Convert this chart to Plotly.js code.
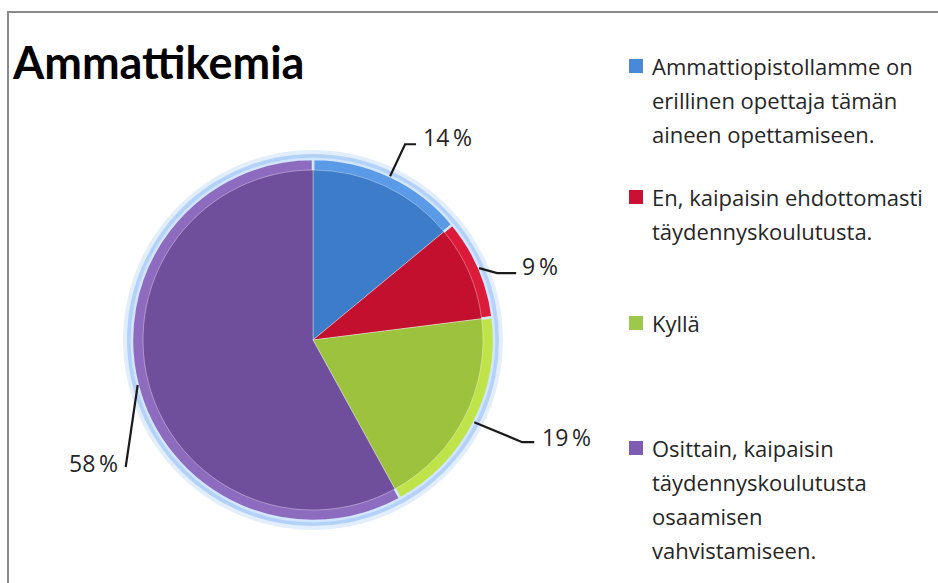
<!DOCTYPE html>
<html>
<head>
<meta charset="utf-8">
<script src="https://cdn.plot.ly/plotly-3.0.1.min.js"></script>
<style>html,body{margin:0;padding:0;background:#fff;}#chart{width:938px;height:583px;}</style>
</head>
<body>
<div id="chart"></div>
<script>
// ---- data ----
const chartTitle = "Ammattikemia";
const legendLabels = [
  "Ammattiopistollamme on<br>erillinen opettaja tämän<br>aineen opettamiseen.",
  "En, kaipaisin ehdottomasti<br>täydennyskoulutusta.",
  "Kyllä",
  "Osittain, kaipaisin<br>täydennyskoulutusta<br>osaamisen<br>vahvistamiseen."
];
const categories = legendLabels.map(s => s.replace(/<br>/g, " "));
const values = [14, 9, 19, 58];
const rimColors  = ["#5a9ae6", "#dc1a3a", "#bfe44a", "#8d6cc0"];
const bodyColors = ["#3c7cc8", "#c2102e", "#9cc23e", "#6f4f9b"];
const legendSwatch = ["#4a88d8", "#cc1035", "#9cc84c", "#7d5cb2"];

// ---- layout constants (pixels) ----
const W = 938, H = 583;
const CX = 313, CY = 340, R = 181, RIN = 170;
const px = x => x / W, py = y => 1 - y / H;
// leader offsets relative to slice edge point: [elbow, end, label, anchor]
const leader = [
  {elbow: [15, -32], end: [26, -32], label: [31, -39], anchor: "left"},
  {elbow: [18, 5],   end: [37, 5],   label: [41, -2],  anchor: "left"},
  {elbow: [48, 20],  end: [60, 20],  label: [66, 15],  anchor: "left"},
  {elbow: [-12, 82], end: [-12, 82], label: [-18, 78], anchor: "right"}
];
const legendFirstY = [66, 197, 323, 448];
const legendLineH = 34;

const total = values.reduce((a, b) => a + b, 0);

const traces = [
  {
    type: "pie", values: values, labels: categories, sort: false,
    direction: "clockwise", rotation: 0, textinfo: "none", hoverinfo: "skip",
    showlegend: false,
    marker: {colors: rimColors, line: {color: "rgba(210,230,255,1)", width: 2.5}},
    domain: {x: [px(CX - R), px(CX + R)], y: [py(CY + R), py(CY - R)]}
  },
  {
    type: "pie", values: values, labels: categories, sort: false,
    direction: "clockwise", rotation: 0, textinfo: "none", hoverinfo: "skip",
    showlegend: false,
    marker: {colors: bodyColors, line: {color: "rgba(255,255,255,0.35)", width: 1}},
    domain: {x: [px(CX - RIN), px(CX + RIN)], y: [py(CY + RIN), py(CY - RIN)]}
  }
];

const shapes = [
  // frame
  {type: "rect", xref: "paper", yref: "paper", x0: px(8), x1: px(W + 10), y0: py(H + 10), y1: py(12),
   line: {color: "#8a8a8a", width: 2}, fillcolor: "rgba(0,0,0,0)", layer: "below"},
  // glow
  {type: "circle", xref: "paper", yref: "paper", x0: px(CX - R - 9), x1: px(CX + R + 9), y0: py(CY + R + 9), y1: py(CY - R - 9),
   line: {width: 0}, fillcolor: "rgba(200,222,252,0.5)", layer: "below"},
  {type: "circle", xref: "paper", yref: "paper", x0: px(CX - R - 5), x1: px(CX + R + 5), y0: py(CY + R + 5), y1: py(CY - R - 5),
   line: {width: 0}, fillcolor: "rgba(160,198,246,0.7)", layer: "below"}
];
const annotations = [];

// leader lines and percent labels
let cum = 0;
values.forEach((v, i) => {
  const mid = (cum + v / 2) / total * 2 * Math.PI;
  cum += v;
  const ex = CX + R * Math.sin(mid), ey = CY - R * Math.cos(mid);
  const L = leader[i];
  const p0 = [ex, ey], p1 = [ex + L.elbow[0], ey + L.elbow[1]], p2 = [ex + L.end[0], ey + L.end[1]];
  shapes.push({type: "path", xref: "paper", yref: "paper",
    path: `M ${px(p0[0])} ${py(p0[1])} L ${px(p1[0])} ${py(p1[1])} L ${px(p2[0])} ${py(p2[1])}`,
    line: {color: "#1a1a1a", width: 2.2}});
  annotations.push({xref: "paper", yref: "paper", x: px(ex + L.label[0]), y: py(ey + L.label[1]),
    xanchor: L.anchor, yanchor: "middle", showarrow: false,
    text: Math.round(v / total * 100) + "\u2009%",
    font: {family: "Open Sans, Lato, sans-serif", size: 23, color: "#262626"}});
});

// legend
legendLabels.forEach((lab, i) => {
  const y0 = legendFirstY[i];
  shapes.push({type: "rect", xref: "paper", yref: "paper", x0: px(629), x1: px(643), y0: py(y0 + 7), y1: py(y0 - 7),
    fillcolor: legendSwatch[i], line: {width: 0}});
  lab.split("<br>").forEach((line, j) => {
    annotations.push({xref: "paper", yref: "paper", x: px(650), y: py(y0 + j * legendLineH),
      xanchor: "left", yanchor: "middle", showarrow: false, text: line,
      font: {family: "Open Sans, Lato, sans-serif", size: 22, color: "#262626"}});
  });
});

const layout = {
  width: W, height: H,
  margin: {l: 0, r: 0, t: 0, b: 0},
  paper_bgcolor: "#ffffff",
  showlegend: false,
  title: {text: chartTitle, x: px(13), xanchor: "left", xref: "paper", y: py(63), yanchor: "middle", yref: "paper",
    font: {family: "Lato, sans-serif", size: 45, weight: "bold", color: "#000"}},
  shapes: shapes,
  annotations: annotations
};

Plotly.newPlot("chart", traces, layout, {staticPlot: true});
</script>
</body>
</html>
